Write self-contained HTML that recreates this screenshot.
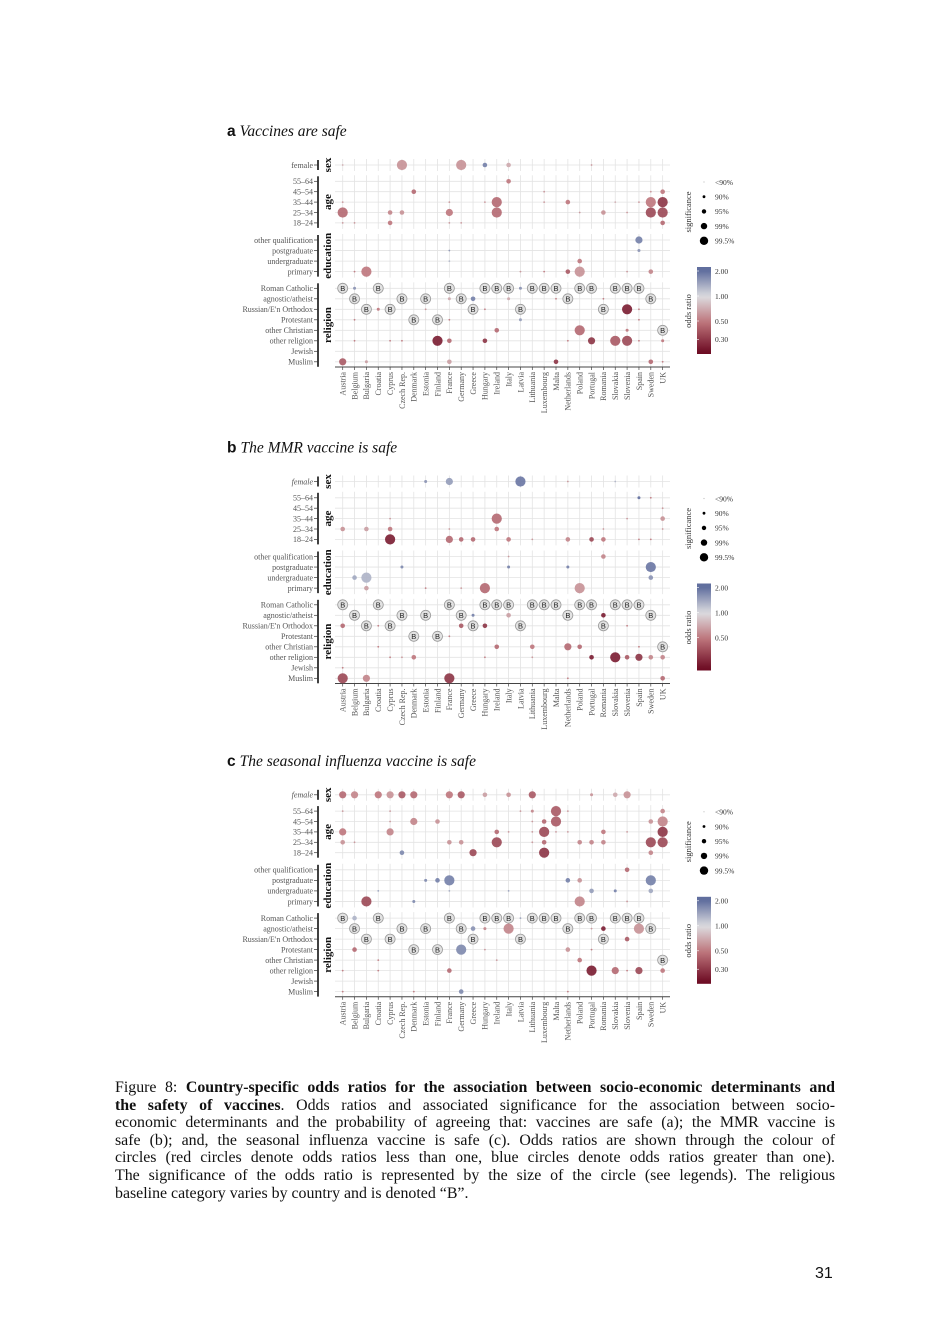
<!DOCTYPE html>
<html><head><meta charset="utf-8">
<style>
body{margin:0;background:#fff;}
#page{position:relative;width:950px;height:1344px;background:#fff;overflow:hidden;font-family:"Liberation Serif",serif;}
.cap{position:absolute;left:115px;width:720px;font-size:15.9px;line-height:17.6px;color:#111;}
.cap div{text-align:justify;text-align-last:justify;white-space:nowrap;}
.cap div.last{text-align-last:left;}
</style></head>
<body>
<div id="page">
<svg id="fig" width="950" height="1060" style="position:absolute;left:0;top:0"></svg>
<div class="cap" style="top:1079px">
<div>Figure 8: <b>Country-specific odds ratios for the association between socio-economic determinants and</b></div>
<div><b>the safety of vaccines</b>. Odds ratios and associated significance for the association between socio-</div>
<div>economic determinants and the probability of agreeing that: vaccines are safe (a); the MMR vaccine is</div>
<div>safe (b); and, the seasonal influenza vaccine is safe (c). Odds ratios are shown through the colour of</div>
<div>circles (red circles denote odds ratios less than one, blue circles denote odds ratios greater than one).</div>
<div>The significance of the odds ratio is represented by the size of the circle (see legends). The religious</div>
<div class="last">baseline category varies by country and is denoted “B”.</div>
</div>
<div style="position:absolute;left:815px;top:1265px;font-family:'Liberation Sans',sans-serif;font-size:16px;color:#111">31</div>
</div>
<script>
const countries=["Austria","Belgium","Bulgaria","Croatia","Cyprus","Czech Rep.","Denmark","Estonia","Finland","France","Germany","Greece","Hungary","Ireland","Italy","Latvia","Lithuania","Luxembourg","Malta","Netherlands","Poland","Portugal","Romania","Slovakia","Slovenia","Spain","Sweden","UK"];
const rowLabels=["female","55–64","45–54","35–44","25–34","18–24","other qualification","postgraduate","undergraduate","primary","Roman Catholic","agnostic/atheist","Russian/E'n Orthodox","Protestant","other Christian","other religion","Jewish","Muslim"];
const groupNames=["sex","age","education","religion"];
const groupRanges=[[0,0],[1,5],[6,9],[10,17]];
const baselines=[[0,10],[3,10],[9,10],[12,10],[13,10],[14,10],[16,10],[17,10],[18,10],[20,10],[21,10],[23,10],[24,10],[25,10],[1,11],[5,11],[7,11],[10,11],[19,11],[26,11],[2,12],[4,12],[11,12],[15,12],[22,12],[6,13],[8,13],[27,14]];
const sigLabels=["<90%","90%","95%","99%","99.5%"];
const titles=["Vaccines are safe","The MMR vaccine is safe","The seasonal influenza vaccine is safe"];
const letters=["a","b","c"];
const pointsA=[[0,0,0,0.7],[5,0,4,0.6],[10,0,4,0.6],[12,0,2,1.8],[14,0,2,0.7],[21,0,0,0.6],
[14,1,2,0.5],[6,2,2,0.45],[17,2,0,0.6],[26,2,0,0.6],[27,2,2,0.5],
[0,3,0,0.6],[9,3,0,0.6],[12,3,0,0.6],[13,3,4,0.45],[17,3,0,0.6],[19,3,2,0.5],[23,3,0,0.7],[25,3,0,0.6],[26,3,4,0.5],[27,3,4,0.3],
[0,4,4,0.45],[4,4,2,0.55],[5,4,2,0.6],[9,4,3,0.5],[13,4,4,0.45],[20,4,0,0.6],[22,4,2,0.6],[24,4,0,0.6],[26,4,4,0.35],[27,4,4,0.35],
[0,5,0,0.6],[1,5,0,0.6],[4,5,2,0.5],[9,5,0,0.6],[10,5,0,0.6],[27,5,2,0.45],
[25,6,3,1.8],[9,7,0,1.6],[25,7,1,1.6],[9,8,0,1.3],[20,8,2,0.5],
[1,9,0,0.5],[2,9,4,0.5],[15,9,0,0.6],[17,9,0,0.5],[19,9,2,0.4],[20,9,4,0.6],[24,9,0,0.6],[26,9,2,0.55],
[1,10,1,1.6],[15,10,1,1.6],[9,11,1,0.7],[11,11,2,1.8],[14,11,1,0.7],[18,11,0,0.5],[22,11,0,0.5],
[3,12,1,0.5],[7,12,0,0.6],[12,12,0,0.5],[24,12,4,0.25],[25,12,0,0.5],
[1,13,0,0.5],[9,13,0,0.5],[15,13,1,1.5],[25,13,0,0.5],
[13,14,2,0.45],[20,14,4,0.45],[24,14,1,0.5],
[1,15,0,0.5],[4,15,0,0.5],[5,15,0,0.5],[8,15,4,0.25],[9,15,2,0.45],[12,15,2,0.3],[19,15,0,0.5],[21,15,3,0.3],[23,15,4,0.4],[24,15,4,0.35],[25,15,0,0.5],[27,15,1,0.5],
[0,17,3,0.4],[2,17,1,0.65],[9,17,2,0.65],[18,17,2,0.3],[26,17,2,0.45],[27,17,0,0.5]];
const pointsB=[[7,0,1,1.6],[9,0,3,1.5],[15,0,4,1.9],[19,0,0,0.6],[23,0,0,1.3],
[25,1,1,2.0],[26,1,0,0.5],[27,2,0,0.6],
[4,3,0,0.6],[13,3,4,0.45],[24,3,0,0.6],[27,3,2,0.6],
[0,4,2,0.6],[2,4,2,0.65],[4,4,2,0.5],[9,4,0,0.6],[13,4,2,0.5],[22,4,0,0.6],[27,4,0,0.6],
[4,5,4,0.25],[9,5,3,0.45],[10,5,2,0.45],[11,5,2,0.45],[14,5,2,0.5],[16,5,0,0.6],[19,5,2,0.55],[21,5,2,0.35],[22,5,2,0.5],[25,5,0,0.5],[26,5,0,0.5],
[14,6,0,0.6],[22,6,2,0.55],
[5,7,1,1.7],[14,7,1,1.8],[19,7,1,1.8],[26,7,4,1.9],
[1,8,2,1.4],[2,8,4,1.3],[26,8,2,1.6],
[2,9,2,0.65],[7,9,0,0.5],[10,9,0,0.6],[12,9,4,0.45],[20,9,4,0.6],
[11,11,1,1.8],[14,11,2,0.65],[22,11,2,0.25],
[0,12,2,0.45],[3,12,0,0.5],[10,12,2,0.4],[12,12,2,0.3],[24,12,0,0.5],
[9,13,0,0.5],
[3,14,0,0.5],[13,14,2,0.45],[16,14,2,0.5],[19,14,3,0.45],[20,14,2,0.45],[25,14,0,0.5],
[4,15,0,0.5],[5,15,0,0.6],[6,15,2,0.5],[12,15,0,0.5],[16,15,0,0.6],[21,15,2,0.25],[23,15,4,0.25],[24,15,2,0.4],[25,15,3,0.3],[26,15,2,0.55],[27,15,2,0.55],
[0,16,0,0.5],
[0,17,4,0.35],[2,17,3,0.55],[9,17,4,0.3],[19,17,0,0.5],[27,17,2,0.45]];
const pointsC=[[0,0,3,0.45],[1,0,3,0.55],[3,0,3,0.5],[4,0,3,0.6],[5,0,3,0.4],[6,0,3,0.45],[9,0,3,0.5],[10,0,3,0.4],[12,0,2,0.65],[14,0,2,0.6],[16,0,3,0.4],[21,0,1,0.6],[23,0,2,0.7],[24,0,3,0.6],
[0,1,0,0.6],[4,1,0,0.6],[15,1,0,0.6],[16,1,1,0.55],[18,1,4,0.4],[19,1,0,0.6],[27,1,2,0.55],
[4,2,0,0.6],[6,2,3,0.55],[8,2,2,0.6],[16,2,0,0.6],[17,2,2,0.45],[18,2,4,0.4],[26,2,2,0.6],[27,2,4,0.55],
[0,3,3,0.5],[4,3,3,0.55],[13,3,2,0.45],[14,3,0,0.6],[16,3,0,0.6],[17,3,4,0.35],[18,3,0,0.6],[19,3,0,0.6],[22,3,2,0.5],[24,3,0,0.6],[27,3,4,0.3],
[0,4,2,0.6],[1,4,0,0.6],[9,4,2,0.6],[10,4,2,0.6],[13,4,4,0.35],[16,4,0,0.6],[17,4,2,0.45],[20,4,2,0.55],[21,4,2,0.55],[22,4,2,0.55],[26,4,4,0.35],[27,4,4,0.35],
[5,5,2,1.7],[11,5,3,0.35],[17,5,4,0.3],[26,5,2,0.55],
[24,6,2,0.45],
[7,7,1,1.7],[8,7,2,1.8],[9,7,4,1.8],[19,7,2,1.8],[20,7,2,0.6],[26,7,4,1.8],
[3,8,0,1.5],[9,8,0,1.4],[14,8,0,1.5],[21,8,2,1.5],[23,8,1,1.8],[26,8,2,1.4],
[2,9,4,0.35],[6,9,1,1.7],[20,9,4,0.55],[24,9,0,0.6],
[1,10,2,1.3],[15,10,0,1.5],
[11,11,2,1.6],[12,11,1,0.55],[14,11,4,0.55],[21,11,0,0.6],[22,11,2,0.25],[25,11,4,0.6],
[24,12,2,0.4],
[1,13,2,0.45],[10,13,4,1.7],[12,13,0,0.6],[19,13,2,0.6],[21,13,0,0.5],
[3,14,0,0.5],[13,14,0,0.6],[20,14,2,0.5],
[0,15,0,0.5],[3,15,0,0.5],[9,15,2,0.45],[21,15,4,0.25],[23,15,3,0.45],[24,15,0,0.5],[25,15,3,0.35],[27,15,2,0.5],
[0,17,0,0.5],[6,17,0,0.5],[10,17,2,1.7],[19,17,0,0.5]];
const panels=[pointsA,pointsB,pointsC];
const cbLabels=[["2.00","1.00","0.50","0.30"],["2.00","1.00","0.50"],["2.00","1.00","0.50","0.30"]];
const cbValues=[[2,1,0.5,0.3],[2,1,0.5],[2,1,0.5,0.3]];

const NS="http://www.w3.org/2000/svg";
const svg=document.getElementById('fig');
function mk(tag,attrs,parent){const e=document.createElementNS(NS,tag);for(const k in attrs)e.setAttribute(k,attrs[k]);(parent||svg).appendChild(e);return e;}
const offsets=[0,316.5,629.8];
function xOf(c){return 342.7+c*11.85;}
function yOf(r,off){let y;if(r===0)y=165;else if(r<=5)y=181.3+(r-1)*10.4;else if(r<=9)y=240+(r-6)*10.55;else y=288.3+(r-10)*10.5;return y+off;}
const radii=[0.9,1.5,2.3,3.6,5.1];
function mix(a,b,t){return a.map((v,i)=>Math.round(v+(b[i]-v)*t));}
function colorOf(v){const t=Math.log2(v);const grey=[220,220,224],mid=[190,118,124],red=[108,10,34],blue=[96,110,158];let c;
 if(t>=0)c=mix(grey,blue,Math.min(t,1));else if(t>-1)c=mix(grey,mid,-t);else c=mix(mid,red,Math.min(-t-1,1.2)/1.2);return `rgb(${c[0]},${c[1]},${c[2]})`;}
function cbY(v,top){return top+4+(1-Math.log2(v))*25;}

panels.forEach((pts,p)=>{
 const off=offsets[p];
 const g=mk('g',{});
 
 
 const tt=mk('text',{x:227,y:136+off,'font-size':15.5,fill:'#111'},g);
 tt.innerHTML=`<tspan font-family="Liberation Sans, sans-serif" font-weight="bold">${letters[p]}</tspan><tspan font-family="Liberation Serif, serif" font-style="italic" dx="4">${titles[p]}</tspan>`;
 
 
 groupRanges.forEach((gr,gi)=>{
  const y0=yOf(gr[0],off)-6,y1=yOf(gr[1],off)+6;
  for(let c=0;c<countries.length;c++){const l=mk('line',{x1:xOf(c),x2:xOf(c),y1:y0,y2:y1,stroke:'#e3e3e3','stroke-width':0.8},g);}
  for(let r=gr[0];r<=gr[1];r++){const l=mk('line',{x1:335,x2:670,y1:yOf(r,off),y2:yOf(r,off),stroke:'#e3e3e3','stroke-width':0.8},g);}
  const br=mk('line',{x1:318,x2:318,y1:y0+1,y2:y1-1,stroke:'#111','stroke-width':1.6},g);
  
  const gt=mk('text',{x:0,y:0,'font-size':11,'font-weight':'bold','font-family':'Liberation Serif, serif',fill:'#111','text-anchor':'middle',transform:`translate(331,${(y0+y1)/2}) rotate(-90)`},g);
  gt.textContent=groupNames[gi];
 });
 rowLabels.forEach((lab,r)=>{
  const t=mk('text',{x:313,y:yOf(r,off)+2.8,'font-size':8,'font-family':'Liberation Serif, serif',fill:'#555','text-anchor':'end','font-style':(r===0&&p>0)?'italic':'normal'},g);
  t.textContent=lab;
  mk('line',{x1:314,x2:318,y1:yOf(r,off),y2:yOf(r,off),stroke:'#333','stroke-width':0.7},g);
 });
 const ax=mk('line',{x1:335,x2:670,y1:367+off,y2:367+off,stroke:'#444','stroke-width':1},g);
 
 countries.forEach((c,i)=>{
  mk('line',{x1:xOf(i),x2:xOf(i),y1:367+off,y2:370+off,stroke:'#444','stroke-width':0.7},g);
  const t=mk('text',{x:0,y:0,'font-size':8,'font-family':'Liberation Serif, serif',fill:'#555','text-anchor':'end',transform:`translate(${xOf(i)+2.8},${372+off}) rotate(-90)`},g);
  t.textContent=c;
 });
 baselines.forEach(b=>{
  const x=xOf(b[0]),y=yOf(b[1],off);
  const c=mk('circle',{cx:x,cy:y,r:5,fill:'#e2e2e2',stroke:'#9a9a9a','stroke-width':0.8},g);
  
  const t=mk('text',{x:x,y:y+2.8,'font-size':7.5,'font-family':'Liberation Sans, sans-serif',fill:'#222','text-anchor':'middle'},g);
  t.textContent='B';
 });
 pts.forEach(pt=>{
  const c=mk('circle',{cx:xOf(pt[0]),cy:yOf(pt[1],off),r:radii[pt[2]],fill:colorOf(pt[3]),'fill-opacity':0.9},g);
  
 });
 const st=mk('text',{x:0,y:0,'font-size':8.5,'font-family':'Liberation Serif, serif',fill:'#333','text-anchor':'middle',transform:`translate(691,${212+off}) rotate(-90)`},g);
 st.textContent='significance';
 sigLabels.forEach((s,i)=>{
  const y=182+off+i*14.7;
  const c=mk('circle',{cx:704,cy:y,r:[0.6,1.4,2.2,3.2,4.2][i],fill:i===0?'#bbb':'#000'},g);
  
  const t=mk('text',{x:715,y:y+2.8,'font-size':7.5,'font-family':'Liberation Serif, serif',fill:'#333'},g);
  t.textContent=s;
 });
 const top=267+off;
 const gid='cb'+p;
 const defs=mk('defs',{},g);
 const lg=mk('linearGradient',{id:gid,x1:0,y1:0,x2:0,y2:1},defs);
 for(let i=0;i<=20;i++){const v=Math.pow(2,1.15-i*(3.4/20));mk('stop',{offset:(i/20),'stop-color':colorOf(v)},lg);}
 const rb=mk('rect',{x:697,y:top,width:14,height:87,fill:`url(#${gid})`},g);
 
 cbValues[p].forEach((v,i)=>{
  const y=cbY(v,top);
  mk('line',{x1:697,x2:699,y1:y,y2:y,stroke:'#fff','stroke-width':0.6},g);
  const t=mk('text',{x:715,y:y+2.8,'font-size':7.5,'font-family':'Liberation Serif, serif',fill:'#333'},g);
  t.textContent=cbLabels[p][i];
 });
 const ot=mk('text',{x:0,y:0,'font-size':8.5,'font-family':'Liberation Serif, serif',fill:'#333','text-anchor':'middle',transform:`translate(691,${311+off}) rotate(-90)`},g);
 ot.textContent='odds ratio';
});
</script>
</body></html>
